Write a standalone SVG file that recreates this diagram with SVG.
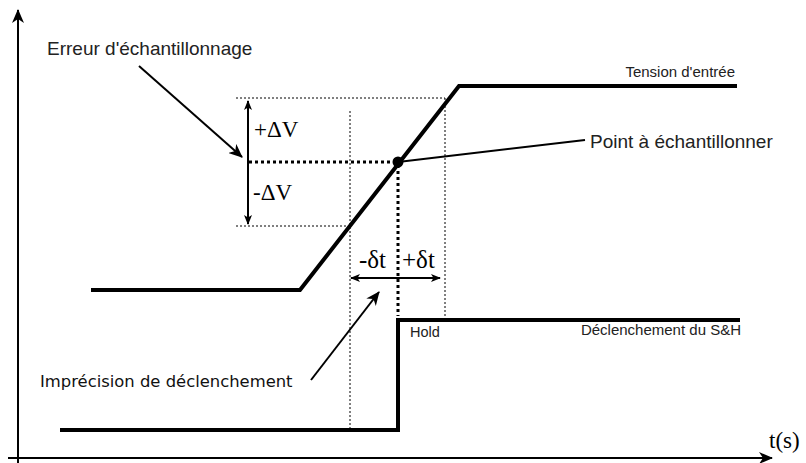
<svg xmlns="http://www.w3.org/2000/svg" width="806" height="463" viewBox="0 0 806 463">
<style>
.sig{fill:none;stroke:#000;stroke-width:4;stroke-linejoin:miter}
.thin{fill:none;stroke:#000;stroke-width:2}
.dot1{fill:none;stroke:#000;stroke-width:1;stroke-dasharray:2,2}
.dot3{fill:none;stroke:#000;stroke-width:3;stroke-dasharray:3,3}
.sans{font-family:"Liberation Sans",Arial,sans-serif;fill:#222}
.dj{font-family:"DejaVu Sans",sans-serif;fill:#111}
.serif{font-family:"Liberation Serif","Times New Roman",serif;fill:#000}
</style>
<defs>
<marker id="ah" markerWidth="10" markerHeight="8" refX="9" refY="4" orient="auto" markerUnits="userSpaceOnUse"><path d="M0,0 L10,4 L0,8 L2.5,4 Z" fill="#000"/></marker>
<marker id="ah2" markerWidth="14" markerHeight="12" refX="13" refY="6" orient="auto" markerUnits="userSpaceOnUse"><path d="M0,0 L14,6 L0,12 L4,6 Z" fill="#000"/></marker>
</defs>
<rect width="806" height="463" fill="#fff"/>
<g id="axes">
<line x1="18" y1="463" x2="18" y2="10" class="thin" marker-end="url(#ah2)"/>
<line x1="8" y1="458" x2="772" y2="458" class="thin" marker-end="url(#ah2)"/>
<text x="769" y="448" class="serif" font-size="23">t(s)</text>
</g>
<g id="guides">
<line x1="236" y1="98" x2="445" y2="98" class="dot1"/>
<line x1="236" y1="226" x2="349" y2="226" class="dot1"/>
<line x1="350" y1="111" x2="350" y2="430" class="dot1"/>
<line x1="445" y1="98" x2="445" y2="316" class="dot1"/>
<line x1="249" y1="162" x2="398" y2="162" class="dot3"/>
<line x1="398" y1="165" x2="398" y2="316" class="dot3"/>
</g>
<g id="input">
<polyline points="91,290 300,290 459,86 737,86" class="sig"/>
<text x="735" y="77" class="sans" font-size="15" text-anchor="end">Tension d'entrée</text>
</g>
<g id="trigger">
<polyline points="60,430 398,430 398,320 740,320" class="sig"/>
<text x="741" y="335" class="sans" font-size="15" text-anchor="end">Déclenchement du S&amp;H</text>
<text x="410" y="337" class="sans" font-size="14.5">Hold</text>
</g>
<g id="point">
<circle cx="398" cy="162" r="5.5" fill="#000"/>
<line x1="398" y1="162" x2="585" y2="140" class="thin"/>
<text x="590" y="148" class="sans" font-size="19">Point à échantillonner</text>
</g>
<g id="deltaV">
<line x1="248" y1="112" x2="248" y2="214" stroke="#000" stroke-width="2"/>
<line x1="248" y1="112" x2="248" y2="101" class="thin" marker-end="url(#ah)"/>
<line x1="248" y1="214" x2="248" y2="224" class="thin" marker-end="url(#ah)"/>
<text x="254" y="137" class="serif" font-size="23">+ΔV</text>
<text x="253" y="200" class="serif" font-size="23">-ΔV</text>
</g>
<g id="deltaT">
<line x1="360" y1="278" x2="430" y2="278" stroke="#000" stroke-width="2"/>
<line x1="360" y1="278" x2="351" y2="278" class="thin" marker-end="url(#ah)"/>
<line x1="430" y1="278" x2="440" y2="278" class="thin" marker-end="url(#ah)"/>
<text x="359" y="268" class="serif" font-size="25">-δt</text>
<text x="402" y="268" class="serif" font-size="25">+δt</text>
</g>
<g id="connectors">
<line x1="139" y1="66" x2="242" y2="157" class="thin" marker-end="url(#ah2)"/>
<line x1="311" y1="380" x2="379" y2="292" class="thin" marker-end="url(#ah2)"/>
</g>
<g id="labels">
<text x="47" y="55" class="sans" font-size="19">Erreur d'échantillonnage</text>
<text x="40" y="387" class="dj" font-size="16.4">Imprécision de déclenchement</text>
</g>
</svg>
